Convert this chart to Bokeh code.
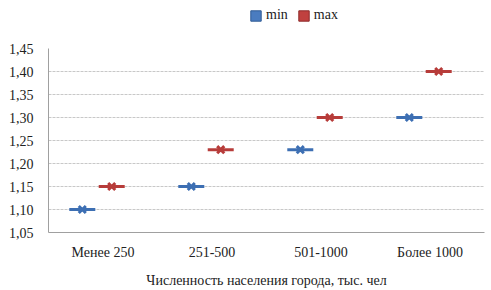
from bokeh.plotting import figure
from bokeh.layouts import column
from bokeh.models import (ColumnDataSource, FactorRange, Legend, LegendItem,
                          CustomJSTickFormatter, FixedTicker, Range1d)
from bokeh.transform import dodge
from bokeh.embed import file_html
from bokeh.resources import INLINE

categories = ["Менее 250", "251-500", "501-1000", "Более 1000"]
min_values = [1.10, 1.15, 1.23, 1.30]
max_values = [1.15, 1.23, 1.30, 1.40]
y_ticks = [1.05, 1.10, 1.15, 1.20, 1.25, 1.30, 1.35, 1.40, 1.45]
series_names = ["min", "max"]
x_title = "Численность населения города, тыс. чел"

BLUE = "#3d6fb3"
RED = "#b73c3a"
FONT = "Liberation Serif"
W = 486

# ---------- legend strip ----------
lf = figure(width=W, height=40, x_range=Range1d(0, W), y_range=Range1d(0, 40),
            output_backend="svg", toolbar_location=None, min_border=0)
lf.axis.visible = False
lf.grid.visible = False
lf.outline_line_color = None
r_min = lf.quad(left=[-20], right=[-10], top=[-20], bottom=[-10],
                fill_color="#4a7cc0", line_color="#2e5a94")
r_max = lf.quad(left=[-20], right=[-10], top=[-20], bottom=[-10],
                fill_color="#c0413f", line_color="#8e2b2a")
legend = Legend(items=[LegendItem(label=series_names[0], renderers=[r_min]),
                       LegendItem(label=series_names[1], renderers=[r_max])],
                orientation="horizontal", location=(201, 17),
                glyph_width=13, glyph_height=13, label_standoff=4, spacing=9,
                padding=0, margin=0, border_line_color=None,
                background_fill_alpha=0,
                label_text_font=FONT, label_text_font_size="14px",
                label_text_color="#222222", label_height=14)
lf.add_layout(legend, "center")

# ---------- main chart ----------
src = ColumnDataSource(dict(cat=categories, mn=min_values, mx=max_values))

p = figure(x_range=FactorRange(*categories), y_range=Range1d(1.05, 1.45),
           width=W, height=250, output_backend="svg", toolbar_location=None,
           min_border_left=48, min_border_right=2, min_border_top=8,
           min_border_bottom=4)
p.outline_line_color = None
p.background_fill_color = "white"

p.rect(x=dodge("cat", -0.19, range=p.x_range), y="mn", width=26, height=3,
       width_units="screen", height_units="screen", source=src,
       fill_color=BLUE, line_color=None)
p.scatter(x=dodge("cat", -0.19, range=p.x_range), y="mn", marker="x", size=10,
          line_width=3, line_color=BLUE, source=src)
p.rect(x=dodge("cat", 0.08, range=p.x_range), y="mx", width=26, height=3,
       width_units="screen", height_units="screen", source=src,
       fill_color=RED, line_color=None)
p.scatter(x=dodge("cat", 0.08, range=p.x_range), y="mx", marker="x", size=10,
          line_width=3, line_color=RED, source=src)

p.yaxis.ticker = FixedTicker(ticks=y_ticks)
p.yaxis.formatter = CustomJSTickFormatter(code="return tick.toFixed(2).replace('.', ',');")
p.yaxis.major_tick_line_color = None
p.yaxis.minor_tick_line_color = None
p.yaxis.axis_line_color = "#a0a0a0"
p.yaxis.major_label_text_font = FONT
p.yaxis.major_label_text_font_size = "14px"
p.yaxis.major_label_text_color = "#222222"
p.yaxis.major_label_standoff = 9

p.xaxis.major_tick_line_color = None
p.xaxis.minor_tick_line_color = None
p.xaxis.axis_line_color = "#a0a0a0"
p.xaxis.major_label_text_font = FONT
p.xaxis.major_label_text_font_size = "14px"
p.xaxis.major_label_text_color = "#222222"
p.xaxis.major_label_standoff = 6
p.xaxis.axis_label = x_title
p.xaxis.axis_label_text_font = FONT
p.xaxis.axis_label_text_font_size = "14px"
p.xaxis.axis_label_text_font_style = "normal"
p.xaxis.axis_label_text_color = "#222222"
p.xaxis.axis_label_standoff = 10

p.xgrid.grid_line_color = None
p.ygrid.grid_line_color = "#c8c8c8"
p.ygrid.grid_line_dash = "3 1"

open("out.html", "w").write(file_html(column(lf, p), INLINE))
